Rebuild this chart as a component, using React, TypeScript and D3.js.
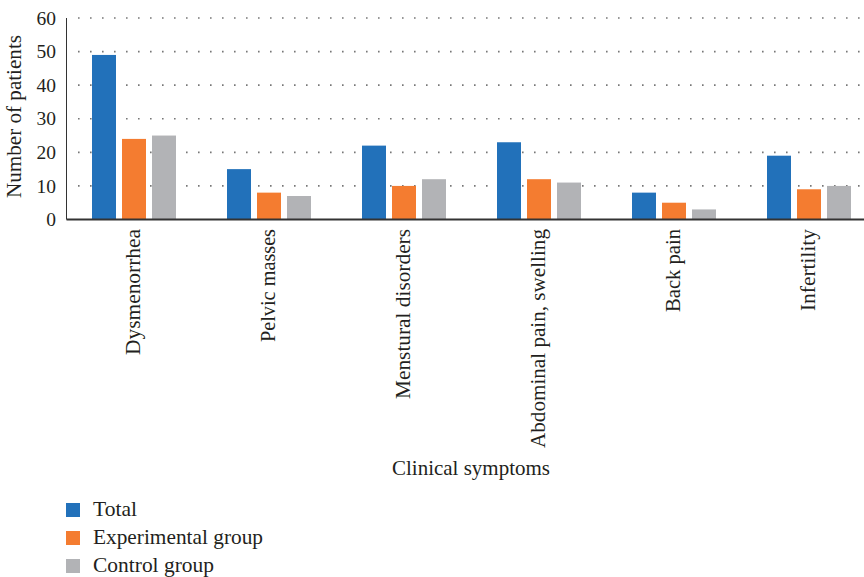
import React from "react";
import * as d3 from "d3";

const categories = [
  "Dysmenorrhea",
  "Pelvic masses",
  "Menstural disorders",
  "Abdominal pain, swelling",
  "Back pain",
  "Infertility",
];
const seriesNames = ["Total", "Experimental group", "Control group"];
const totalValues = [49, 15, 22, 23, 8, 19];
const experimentalValues = [24, 8, 10, 12, 5, 9];
const controlValues = [25, 7, 12, 11, 3, 10];
const yTicks = [0, 10, 20, 30, 40, 50, 60];
const colors = ["#2271BA", "#F47C30", "#B2B3B6"];
const labelLengths = [126, 113, 170, 219, 83, 82];
const legendLengths = [44, 170, 121];

const W = 864;
const H = 577;
const FONT = "'Liberation Serif', 'Times New Roman', serif";
const TEXT = "#231F20";

export default function App() {
  const left = 66.5;
  const x0 = d3.scaleBand<string>().domain(categories).range([left, left + 810]).padding(0);
  const x1 = d3.scaleBand<string>().domain(seriesNames).range([0, 84]).paddingInner(0.2);
  const y = d3.scaleLinear().domain([0, 60]).range([219.5, 18]);
  const series = [totalValues, experimentalValues, controlValues];

  return (
    <svg width={W} height={H} style={{ position: "absolute", left: 0, top: 0, background: "#fff" }} fontFamily={FONT}>
      {/* grid */}
      {yTicks.filter((t) => t > 0).map((t) => (
        <line key={"g" + t} x1={78} x2={W} y1={y(t)} y2={y(t)} stroke="#777" strokeWidth={1.6} strokeDasharray="1.6,10.4" />
      ))}
      {/* bars */}
      {categories.map((c, ci) => {
        const cx = (x0(c) as number) + x0.bandwidth() / 2 - 42;
        return seriesNames.map((s, si) => {
          const v = series[si][ci];
          return (
            <rect key={c + s} x={cx + (x1(s) as number)} y={y(v)} width={x1.bandwidth()} height={y(0) - y(v)} fill={colors[si]} />
          );
        });
      })}
      {/* axes */}
      <line x1={left} x2={left} y1={y(60)} y2={y(0)} stroke="#333" strokeWidth={1} />
      <line x1={left} x2={W} y1={y(0)} y2={y(0)} stroke="#333" strokeWidth={2} />
      {yTicks.map((t) => (
        <text key={"t" + t} x={56} y={y(t)} dy="0.34em" textAnchor="end" fontSize={19.5} fill={TEXT}>
          {t}
        </text>
      ))}
      <text
        transform={`translate(21, 116.5) rotate(-90)`}
        textAnchor="middle"
        fontSize={20.5}
        fill={TEXT}
        textLength={163}
        lengthAdjust="spacingAndGlyphs"
      >
        Number of patients
      </text>
      {categories.map((c, ci) => {
        const cx = (x0(c) as number) + x0.bandwidth() / 2 + 6;
        return (
          <text
            key={"l" + c}
            transform={`translate(${cx}, 229) rotate(-90)`}
            textAnchor="end"
            fontSize={21}
            fill={TEXT}
            textLength={labelLengths[ci]}
            lengthAdjust="spacingAndGlyphs"
          >
            {c}
          </text>
        );
      })}
      <text x={471} y={475} textAnchor="middle" fontSize={21} fill={TEXT} textLength={158} lengthAdjust="spacingAndGlyphs">
        Clinical symptoms
      </text>
      {/* legend */}
      {seriesNames.map((s, si) => (
        <g key={"lg" + s} transform={`translate(0, ${si * 28})`}>
          <rect x={66} y={503} width={14} height={14} fill={colors[si]} />
          <text x={93} y={516} fontSize={21} fill={TEXT} textLength={legendLengths[si]} lengthAdjust="spacingAndGlyphs">
            {s}
          </text>
        </g>
      ))}
    </svg>
  );
}
